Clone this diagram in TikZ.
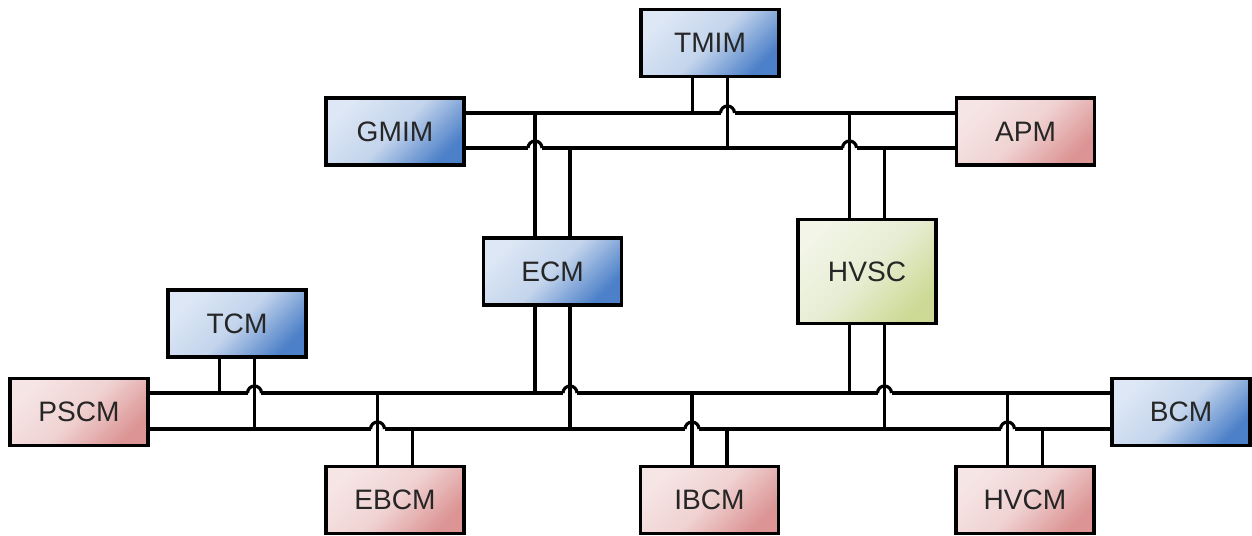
\documentclass[tikz,border=0pt]{standalone}
\usepackage{fontspec}
\setmainfont{Liberation Sans}
\usepackage{xcolor}
\usepackage{tikz}
\usetikzlibrary{positioning}
\usetikzlibrary{shadows}

\definecolor{blueA}{HTML}{DDE7F5}
\definecolor{blueB}{HTML}{C3D4EC}
\definecolor{blueC}{HTML}{4C80C8}
\definecolor{pinkA}{HTML}{F6E5E5}
\definecolor{pinkB}{HTML}{F0D2D2}
\definecolor{pinkC}{HTML}{DC9494}
\definecolor{greenA}{HTML}{F2F5E7}
\definecolor{greenB}{HTML}{E7EDD3}
\definecolor{greenC}{HTML}{CCDA95}

% salto de una linea sobre otra
\newcommand{\hop}[1]{%
  \fill[white] ([xshift=-0.14cm,yshift=-0.06cm]#1) rectangle ([xshift=0.14cm,yshift=0.06cm]#1);
  \draw[bus] ([xshift=-0.14cm]#1) arc[start angle=180, end angle=0, radius=0.14cm];
}

\begin{document}
\begin{tikzpicture}[
    x=0.02cm, y=-0.02cm,
    ecu/.style={rectangle, draw, line width=1.8pt, minimum width=2.76cm, minimum height=1.34cm,
        font=\fontsize{16}{19}\selectfont, text=black!85,
        drop shadow={opacity=0.15, shadow xshift=0.03cm, shadow yshift=-0.03cm}},
    blueecu/.style={ecu, top color=blueA, bottom color=blueC, middle color=blueB, shading angle=45},
    pinkecu/.style={ecu, top color=pinkA, bottom color=pinkC, middle color=pinkB, shading angle=45},
    greenecu/.style={ecu, top color=greenA, bottom color=greenC, middle color=greenB, shading angle=45},
    bus/.style={line width=1.8pt},
    scale=1
]
\useasboundingbox (0,0) rectangle (1252,536);

% Modulos de arriba
\node[blueecu] (TMIM) at (710,43) {TMIM};
\node[blueecu] (GMIM) at (395,131.5) {GMIM};
\node[pinkecu] (APM) at (1025.5,131.5) {APM};

% Modulos del medio
\node[blueecu] (ECM) at (552.5,271.5) {ECM};
\node[greenecu, minimum height=2.08cm] (HVSC) at (867,271.5) {HVSC};
\node[blueecu] (TCM) at (237,323.5) {TCM};

% Modulos de abajo
\node[pinkecu] (PSCM) at (79,412) {PSCM};
\node[blueecu] (BCM) at (1181,412) {BCM};
\node[pinkecu] (EBCM) at (395,500) {EBCM};
\node[pinkecu] (IBCM) at (709.5,500) {IBCM};
\node[pinkecu] (HVCM) at (1025,500) {HVCM};

% Lineas del bus
\coordinate (topA) at (0,113);
\coordinate (topB) at (0,148);
\coordinate (botA) at (0,393);
\coordinate (botB) at (0,429);

\draw[bus] (GMIM.east |- topA) -- (APM.west |- topA);
\draw[bus] (GMIM.east |- topB) -- (APM.west |- topB);
\draw[bus] (PSCM.east |- botA) -- (BCM.west |- botA);
\draw[bus] (PSCM.east |- botB) -- (BCM.west |- botB);

% Cruces
\coordinate (hTMIM) at ([xshift=0.35cm]TMIM.south |- topA);
\coordinate (hECMt) at ([xshift=-0.35cm]ECM.north |- topB);
\coordinate (hHVSCt) at ([xshift=-0.35cm]HVSC.north |- topB);
\coordinate (hTCM) at ([xshift=0.35cm]TCM.south |- botA);
\coordinate (hECMb) at ([xshift=0.35cm]ECM.south |- botA);
\coordinate (hHVSCb) at ([xshift=0.35cm]HVSC.south |- botA);
\coordinate (hEBCM) at ([xshift=-0.35cm]EBCM.north |- botB);
\coordinate (hIBCM) at ([xshift=-0.35cm]IBCM.north |- botB);
\coordinate (hHVCM) at ([xshift=-0.35cm]HVCM.north |- botB);

\hop{hTMIM}
\hop{hECMt}
\hop{hHVSCt}
\hop{hTCM}
\hop{hECMb}
\hop{hHVSCb}
\hop{hEBCM}
\hop{hIBCM}
\hop{hHVCM}

% Conexiones al bus de arriba
\draw[bus] ([xshift=-0.35cm]TMIM.south) -- ([xshift=-0.35cm]TMIM.south |- topA);
\draw[bus] ([xshift=0.35cm]TMIM.south) -- ([xshift=0.35cm]TMIM.south |- topB);
\draw[bus] ([xshift=-0.35cm]ECM.north) -- ([xshift=-0.35cm]ECM.north |- topA);
\draw[bus] ([xshift=0.35cm]ECM.north) -- ([xshift=0.35cm]ECM.north |- topB);
\draw[bus] ([xshift=-0.35cm]HVSC.north) -- ([xshift=-0.35cm]HVSC.north |- topA);
\draw[bus] ([xshift=0.35cm]HVSC.north) -- ([xshift=0.35cm]HVSC.north |- topB);

% Conexiones al bus de abajo
\draw[bus] ([xshift=-0.35cm]TCM.south) -- ([xshift=-0.35cm]TCM.south |- botA);
\draw[bus] ([xshift=0.35cm]TCM.south) -- ([xshift=0.35cm]TCM.south |- botB);
\draw[bus] ([xshift=-0.35cm]ECM.south) -- ([xshift=-0.35cm]ECM.south |- botA);
\draw[bus] ([xshift=0.35cm]ECM.south) -- ([xshift=0.35cm]ECM.south |- botB);
\draw[bus] ([xshift=-0.35cm]HVSC.south) -- ([xshift=-0.35cm]HVSC.south |- botA);
\draw[bus] ([xshift=0.35cm]HVSC.south) -- ([xshift=0.35cm]HVSC.south |- botB);
\draw[bus] ([xshift=-0.35cm]EBCM.north) -- ([xshift=-0.35cm]EBCM.north |- botA);
\draw[bus] ([xshift=0.35cm]EBCM.north) -- ([xshift=0.35cm]EBCM.north |- botB);
\draw[bus] ([xshift=-0.35cm]IBCM.north) -- ([xshift=-0.35cm]IBCM.north |- botA);
\draw[bus] ([xshift=0.35cm]IBCM.north) -- ([xshift=0.35cm]IBCM.north |- botB);
\draw[bus] ([xshift=-0.35cm]HVCM.north) -- ([xshift=-0.35cm]HVCM.north |- botA);
\draw[bus] ([xshift=0.35cm]HVCM.north) -- ([xshift=0.35cm]HVCM.north |- botB);

\end{tikzpicture}
\end{document}
